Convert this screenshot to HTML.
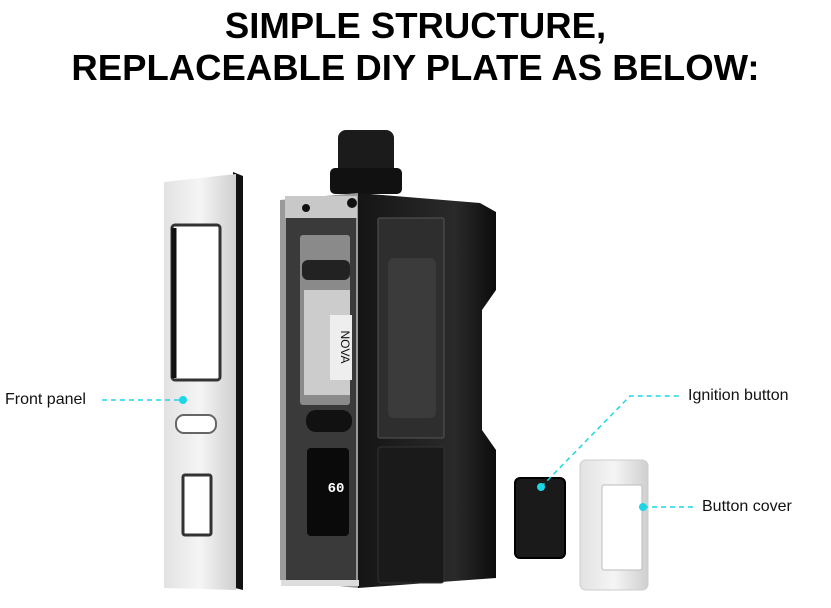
<!DOCTYPE html>
<html><head><meta charset="utf-8"><style>
html,body{margin:0;padding:0;background:#fff;}
body{width:831px;height:608px;overflow:hidden;position:relative;font-family:"Liberation Sans",sans-serif;}
.t{position:absolute;left:0;width:831px;text-align:center;font-weight:bold;font-size:36.5px;color:#000;line-height:42px;}
.l{position:absolute;font-size:16px;color:#111;}
</style></head><body>
<div class="t" style="top:5px">SIMPLE STRUCTURE,</div>
<div class="t" style="top:47px">REPLACEABLE DIY PLATE AS BELOW:</div>
<svg width="831" height="608" style="position:absolute;left:0;top:0">
<defs>
<linearGradient id="sil" x1="0" x2="1"><stop offset="0" stop-color="#e2e2e2"/><stop offset=".5" stop-color="#f5f5f5"/><stop offset="1" stop-color="#cfcfcf"/></linearGradient>
<linearGradient id="blk" x1="0" x2="1"><stop offset="0" stop-color="#151515"/><stop offset=".7" stop-color="#2a2a2a"/><stop offset="1" stop-color="#0c0c0c"/></linearGradient>
</defs>
<!-- front panel -->
<polygon points="233,172 243,176 243,590 235,588" fill="#111"/>
<polygon points="164,182 236,174 236,590 164,588" fill="url(#sil)"/>
<rect x="172" y="225" width="48" height="155" rx="3" fill="#fff" stroke="#333" stroke-width="3"/>
<line x1="174" y1="228" x2="174" y2="378" stroke="#111" stroke-width="5"/>
<rect x="176" y="415" width="40" height="18" rx="8" fill="#fff" stroke="#666" stroke-width="2"/>
<rect x="183" y="475" width="28" height="60" rx="2" fill="#fff" stroke="#333" stroke-width="3"/>
<!-- device -->
<rect x="338" y="130" width="56" height="45" rx="8" fill="#1b1b1b"/>
<rect x="330" y="168" width="72" height="26" rx="5" fill="#111"/>
<polygon points="358,193 480,203 496,212 496,290 482,310 482,430 496,450 496,578 358,588" fill="url(#blk)"/>
<polygon points="280,200 358,193 358,588 280,580" fill="#9a9a9a"/>
<rect x="286" y="205" width="70" height="378" fill="#3a3a3a"/>
<rect x="285" y="196" width="72" height="22" fill="#c8c8c8"/>
<circle cx="306" cy="208" r="4" fill="#111"/><circle cx="352" cy="203" r="5" fill="#111"/>
<rect x="300" y="235" width="50" height="170" rx="3" fill="#8a8a8a"/>
<rect x="304" y="290" width="46" height="105" fill="#ccc"/>
<rect x="330" y="315" width="22" height="65" fill="#eee"/>
<text x="341" y="347" font-size="12" fill="#111" text-anchor="middle" transform="rotate(90 341 347)" font-family="Liberation Sans,sans-serif">NOVA</text>
<rect x="302" y="260" width="48" height="20" rx="6" fill="#222"/>
<rect x="306" y="410" width="46" height="22" rx="10" fill="#111"/>
<rect x="307" y="448" width="42" height="88" rx="4" fill="#0a0a0a"/>
<text x="336" y="492" font-size="14" fill="#fff" text-anchor="middle" font-family="Liberation Mono,monospace" font-weight="bold">60</text>
<rect x="281" y="580" width="78" height="6" fill="#ddd"/>
<rect x="378" y="218" width="66" height="220" rx="2" fill="#2e2e2e" stroke="#555"/>
<rect x="388" y="258" width="48" height="160" rx="6" fill="#3b3b3b"/>
<rect x="378" y="447" width="66" height="136" rx="3" fill="#1a1a1a" stroke="#333"/>
<!-- ignition button -->
<rect x="515" y="478" width="50" height="80" rx="5" fill="#1a1a1a" stroke="#000" stroke-width="2"/>
<!-- button cover -->
<rect x="580" y="460" width="68" height="130" rx="6" fill="url(#sil)" stroke="#ccc"/>
<rect x="602" y="485" width="40" height="85" rx="2" fill="#fff" stroke="#bbb"/>
<!-- connectors -->
<g stroke="#1cd6e6" stroke-width="1.5" stroke-dasharray="5,4" fill="none">
<line x1="102" y1="400" x2="183" y2="400"/>
<polyline points="541,487 630,396 682,396"/>
<line x1="643" y1="507" x2="697" y2="507"/>
</g>
<g fill="#1cd6e6"><circle cx="183" cy="400" r="4"/><circle cx="541" cy="487" r="4"/><circle cx="643" cy="507" r="4"/></g>
</svg>
<div class="l" style="left:5px;top:391px">Front panel</div>
<div class="l" style="left:688px;top:387px">Ignition button</div>
<div class="l" style="left:702px;top:498px">Button cover</div>
</body></html>
